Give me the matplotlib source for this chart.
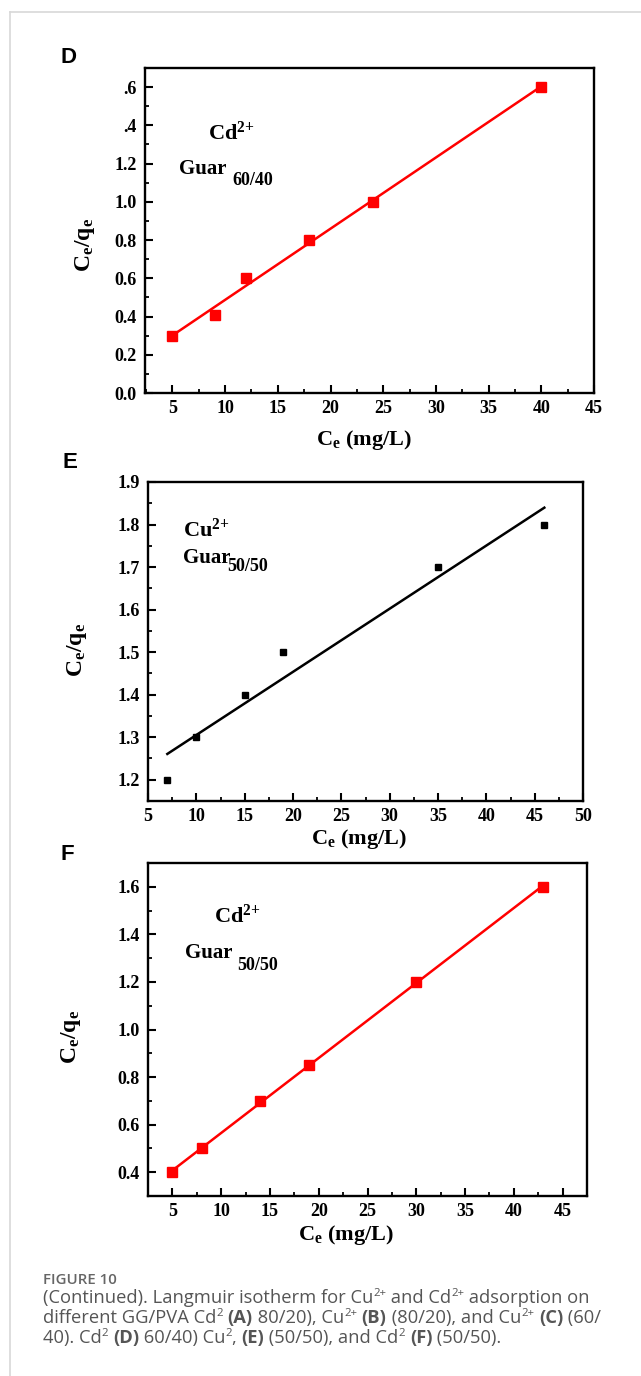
import numpy as np
import matplotlib
matplotlib.use("Agg")
import matplotlib.pyplot as plt
from matplotlib.ticker import MultipleLocator, FixedLocator, FixedFormatter
from matplotlib.lines import Line2D

# ---------------- data ----------------
d_x = [5, 9, 12, 18, 24, 40]
d_y = [0.30, 0.41, 0.60, 0.80, 1.00, 1.60]
d_yticks = [0.0, 0.2, 0.4, 0.6, 0.8, 1.0, 1.2, 1.4, 1.6]
d_yticklabels = ["0.0", "0.2", "0.4", "0.6", "0.8", "1.0", "1.2", ".4", ".6"]
d_xticks = [5, 10, 15, 20, 25, 30, 35, 40, 45]

e_x = [7, 10, 15, 19, 35, 46]
e_y = [1.20, 1.30, 1.40, 1.50, 1.70, 1.80]
e_yticks = [1.2, 1.3, 1.4, 1.5, 1.6, 1.7, 1.8, 1.9]
e_xticks = [5, 10, 15, 20, 25, 30, 35, 40, 45, 50]

f_x = [5, 8, 14, 19, 30, 43]
f_y = [0.40, 0.50, 0.70, 0.85, 1.20, 1.60]
f_yticks = [0.4, 0.6, 0.8, 1.0, 1.2, 1.4, 1.6]
f_xticks = [5, 10, 15, 20, 25, 30, 35, 40, 45]

W, H = 641, 1376
fig = plt.figure(figsize=(W / 100, H / 100), dpi=100)
fig.patch.set_facecolor("white")

SERIF = "Liberation Serif"
SANS = "Liberation Sans"
plt.rcParams["mathtext.fontset"] = "custom"
plt.rcParams["mathtext.rm"] = "Liberation Serif:bold"
plt.rcParams["mathtext.it"] = "Liberation Serif:bold"
plt.rcParams["mathtext.bf"] = "Liberation Serif:bold"
plt.rcParams["mathtext.default"] = "regular"


def px_rect(l, t, r, b):
    return [l / W, 1 - b / H, (r - l) / W, (b - t) / H]


def style_axes(ax, xticks, yticks, xminor, yminor, yticklabels=None):
    for s in ax.spines.values():
        s.set_linewidth(1.7)
        s.set_color("black")
    ax.xaxis.set_major_locator(FixedLocator(xticks))
    ax.yaxis.set_major_locator(FixedLocator(yticks))
    if yticklabels is not None:
        ax.yaxis.set_major_formatter(FixedFormatter(yticklabels))
    else:
        ax.yaxis.set_major_formatter(plt.FuncFormatter(lambda v, p: f"{v:.1f}"))
    ax.xaxis.set_minor_locator(MultipleLocator(xminor))
    ax.yaxis.set_minor_locator(MultipleLocator(yminor))
    ax.tick_params(which="major", direction="in", length=5.5, width=1.5,
                   top=False, right=False)
    ax.tick_params(axis="x", which="major", pad=5)
    ax.tick_params(axis="y", which="major", pad=6)
    ax.tick_params(which="minor", direction="in", length=2.8, width=1.3,
                   top=False, right=False)
    for lab in ax.get_xticklabels() + ax.get_yticklabels():
        lab.set_fontfamily(SERIF)
        lab.set_fontweight("bold")
        lab.set_fontsize(13)


def fit_line(ax, x, y, color):
    k, b = np.polyfit(x, y, 1)
    xs = np.array([min(x), max(x)])
    ax.plot(xs, k * xs + b, color=color, lw=1.8, zorder=2)


def ftext(xp, yp, s, **kw):
    return fig.text(xp / W, 1 - yp / H, s, **kw)


ann = dict(fontfamily=SERIF, fontweight="bold", color="black", va="baseline", ha="left")

# ---------------- Panel D ----------------
axD = fig.add_axes(px_rect(145, 68, 594, 393))
axD.set_xlim(2.4, 45)
axD.set_ylim(0, 1.7)
fit_line(axD, d_x, d_y, "#ff0000")
axD.plot(d_x, d_y, ls="none", marker="s", ms=6.5, color="#ff0000", zorder=3)
style_axes(axD, d_xticks, d_yticks, 2.5, 0.1, d_yticklabels)
ftext(208, 140, "Cd$^{2{+}}$", fontsize=16, **ann)
ftext(179, 174, "Guar", fontsize=15, **ann)
ftext(232, 185, "60/40", fontsize=13, **ann)

# ---------------- Panel E ----------------
axE = fig.add_axes(px_rect(148, 482, 583, 801))
axE.set_xlim(5, 50)
axE.set_ylim(1.15, 1.9)
fit_line(axE, e_x, e_y, "black")
axE.plot(e_x, e_y, ls="none", marker="s", ms=5, color="black", zorder=3)
style_axes(axE, e_xticks, e_yticks, 2.5, 0.05)
ftext(183, 537, "Cu$^{2{+}}$", fontsize=16, **ann)
ftext(183, 563, "Guar", fontsize=15, **ann)
ftext(227, 571, "50/50", fontsize=13, **ann)

# ---------------- Panel F ----------------
axF = fig.add_axes(px_rect(148, 863, 587, 1196))
axF.set_xlim(2.5, 47.5)
axF.set_ylim(0.3, 1.7)
fit_line(axF, f_x, f_y, "#ff0000")
axF.plot(f_x, f_y, ls="none", marker="s", ms=6.5, color="#ff0000", zorder=3)
style_axes(axF, f_xticks, f_yticks, 2.5, 0.1)
ftext(214, 923, "Cd$^{2{+}}$", fontsize=16, **ann)
ftext(185, 958, "Guar", fontsize=15, **ann)
ftext(237, 970, "50/50", fontsize=13, **ann)

# axis labels
ylab = "C$_{e}$/q$_{e}$"
xlab = "C$_{e}$ (mg/L)"
lab = dict(fontfamily=SERIF, fontweight="bold", color="black")
for (xp, yp) in [(85, 245), (77, 650), (71, 1037)]:
    ftext(xp, yp, ylab, rotation=90, ha="center", va="center", fontsize=17, **lab)
for (xp, yp) in [(364, 440), (359, 839), (346, 1235)]:
    ftext(xp, yp, xlab, ha="center", va="center", fontsize=16, **lab)

# panel letters
for (xp, yp, s) in [(61, 63, "D"), (62, 468, "E"), (61, 860, "F")]:
    ftext(xp, yp, s, ha="left", va="baseline", fontsize=16, fontfamily=SANS,
          fontweight="bold", color="black")

# frame lines of the page card
fig.add_artist(Line2D([10 / W, 1], [1 - 12 / H, 1 - 12 / H], transform=fig.transFigure,
                      color="#d8d8d8", lw=1.2))
fig.add_artist(Line2D([10 / W, 10 / W], [1 - 12 / H, 0], transform=fig.transFigure,
                      color="#d8d8d8", lw=1.2))

# ---------------- caption ----------------
renderer = fig.canvas.get_renderer()
CAP_FAM = ["Open Sans", "DejaVu Sans"]
CAP_SIZE = 13.2
CAP_COL = "#555555"


def text_width(s, size, weight):
    t1 = fig.text(0, 0, "|" + s + "|", fontsize=size, fontweight=weight, family=CAP_FAM)
    t2 = fig.text(0, 0, "||", fontsize=size, fontweight=weight, family=CAP_FAM)
    w = t1.get_window_extent(renderer).width - t2.get_window_extent(renderer).width
    t1.remove()
    t2.remove()
    return w


def rich_line(x0, ybase, pieces):
    x = x0
    for s, kind in pieces:
        if kind == "sup":
            size, weight, dy = CAP_SIZE * 0.62, "normal", -6.5
        elif kind == "b":
            size, weight, dy = CAP_SIZE, "bold", 0
        else:
            size, weight, dy = CAP_SIZE, "normal", 0
        fig.text(x / W, 1 - (ybase + dy) / H, s, fontsize=size, fontweight=weight,
                 family=CAP_FAM, color=CAP_COL, ha="left", va="baseline")
        x += text_width(s, size, weight)


fig.text(43 / W, 1 - 1284 / H, "FIGURE 10", fontsize=10.8, family=CAP_FAM,
         fontweight="semibold", color="#666666", ha="left", va="baseline")
rich_line(43, 1303, [("(Continued). Langmuir isotherm for Cu", "n"), ("2+", "sup"),
                     (" and Cd", "n"), ("2+", "sup"), (" adsorption on", "n")])
rich_line(43, 1323, [("different GG/PVA Cd", "n"), ("2", "sup"), (" ", "n"), ("(A)", "b"),
                     (" 80/20), Cu", "n"), ("2+", "sup"), (" ", "n"), ("(B)", "b"),
                     (" (80/20), and Cu", "n"), ("2+", "sup"), (" ", "n"), ("(C)", "b"),
                     (" (60/", "n")])
rich_line(43, 1343, [("40). Cd", "n"), ("2", "sup"), (" ", "n"), ("(D)", "b"),
                     (" 60/40) Cu", "n"), ("2", "sup"), (", ", "n"), ("(E)", "b"),
                     (" (50/50), and Cd", "n"), ("2", "sup"), (" ", "n"), ("(F)", "b"),
                     (" (50/50).", "n")])

fig.savefig("out.png", dpi=100, facecolor="white")
